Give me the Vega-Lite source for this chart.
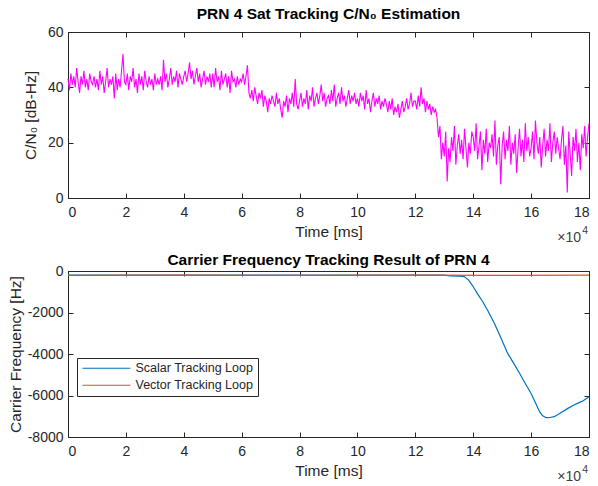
{
  "$schema": "https://vega.github.io/schema/vega-lite/v6.json",
  "background": "white",
  "padding": {"left": 7, "top": 6, "right": 10, "bottom": 0},
  "spacing": 6,
  "config": {
    "font": "Liberation Sans",
    "view": {"stroke": "#262626", "strokeWidth": 1},
    "axis": {"grid": false, "labelFontSize": 14, "titleFontSize": 15.5, "titleFontWeight": "normal", "labelColor": "#262626", "titleColor": "#262626", "domainColor": "#262626", "tickColor": "#262626", "tickSize": -5, "tickWidth": 1, "labelFont": "Liberation Sans", "titleFont": "Liberation Sans"},
    "axisX": {"labelPadding": 12, "titlePadding": 5},
    "axisY": {"labelPadding": 10},
    "title": {"fontSize": 15.5, "fontWeight": "bold", "color": "#000000", "font": "Liberation Sans"}
  },
  "datasets": {
    "cn0": [
{"t":0.00,"c":43},{"t":0.05,"c":39},{"t":0.10,"c":45},{"t":0.15,"c":41},{"t":0.20,"c":44},{"t":0.25,"c":40},{"t":0.30,"c":47},{"t":0.35,"c":42},{"t":0.40,"c":38},{"t":0.45,"c":44},{"t":0.50,"c":41},{"t":0.55,"c":46},{"t":0.60,"c":40},{"t":0.65,"c":43},{"t":0.70,"c":39},{"t":0.75,"c":45},{"t":0.80,"c":42},{"t":0.85,"c":41},{"t":0.90,"c":44},{"t":0.95,"c":40},
{"t":1.00,"c":43},{"t":1.05,"c":39},{"t":1.10,"c":46},{"t":1.15,"c":41},{"t":1.20,"c":44},{"t":1.25,"c":38},{"t":1.30,"c":42},{"t":1.35,"c":47},{"t":1.40,"c":40},{"t":1.45,"c":43},{"t":1.50,"c":41},{"t":1.55,"c":44},{"t":1.60,"c":36},{"t":1.65,"c":45},{"t":1.70,"c":39},{"t":1.75,"c":43},{"t":1.80,"c":40},{"t":1.85,"c":46},{"t":1.90,"c":52},{"t":1.95,"c":42},
{"t":2.00,"c":41},{"t":2.05,"c":45},{"t":2.10,"c":39},{"t":2.15,"c":44},{"t":2.20,"c":42},{"t":2.25,"c":47},{"t":2.30,"c":40},{"t":2.35,"c":43},{"t":2.40,"c":38},{"t":2.45,"c":45},{"t":2.50,"c":41},{"t":2.55,"c":44},{"t":2.60,"c":39},{"t":2.65,"c":46},{"t":2.70,"c":42},{"t":2.75,"c":40},{"t":2.80,"c":44},{"t":2.85,"c":41},{"t":2.90,"c":43},{"t":2.95,"c":39},
{"t":3.00,"c":45},{"t":3.05,"c":41},{"t":3.10,"c":43},{"t":3.15,"c":41},{"t":3.20,"c":44},{"t":3.25,"c":39},{"t":3.30,"c":50},{"t":3.35,"c":42},{"t":3.40,"c":45},{"t":3.45,"c":40},{"t":3.50,"c":43},{"t":3.55,"c":47},{"t":3.60,"c":41},{"t":3.65,"c":44},{"t":3.70,"c":42},{"t":3.75,"c":46},{"t":3.80,"c":40},{"t":3.85,"c":45},{"t":3.90,"c":43},{"t":3.95,"c":41},
{"t":4.00,"c":44},{"t":4.05,"c":46},{"t":4.10,"c":42},{"t":4.15,"c":45},{"t":4.20,"c":49},{"t":4.25,"c":43},{"t":4.30,"c":46},{"t":4.35,"c":41},{"t":4.40,"c":44},{"t":4.45,"c":47},{"t":4.50,"c":42},{"t":4.55,"c":45},{"t":4.60,"c":40},{"t":4.65,"c":43},{"t":4.70,"c":46},{"t":4.75,"c":41},{"t":4.80,"c":44},{"t":4.85,"c":42},{"t":4.90,"c":45},{"t":4.95,"c":40},
{"t":5.00,"c":45},{"t":5.05,"c":40},{"t":5.10,"c":47},{"t":5.15,"c":42},{"t":5.20,"c":44},{"t":5.25,"c":39},{"t":5.30,"c":46},{"t":5.35,"c":41},{"t":5.40,"c":43},{"t":5.45,"c":45},{"t":5.50,"c":40},{"t":5.55,"c":44},{"t":5.60,"c":38},{"t":5.65,"c":46},{"t":5.70,"c":42},{"t":5.75,"c":43},{"t":5.80,"c":40},{"t":5.85,"c":44},{"t":5.90,"c":41},{"t":5.95,"c":43},
{"t":6.00,"c":42},{"t":6.05,"c":45},{"t":6.10,"c":41},{"t":6.15,"c":44},{"t":6.20,"c":48},{"t":6.25,"c":38},{"t":6.30,"c":36},{"t":6.35,"c":39},{"t":6.40,"c":35},{"t":6.45,"c":40},{"t":6.50,"c":37},{"t":6.55,"c":34},{"t":6.60,"c":38},{"t":6.65,"c":36},{"t":6.70,"c":39},{"t":6.75,"c":33},{"t":6.80,"c":37},{"t":6.85,"c":35},{"t":6.90,"c":31},{"t":6.95,"c":36},
{"t":7.00,"c":34},{"t":7.05,"c":37},{"t":7.10,"c":35},{"t":7.15,"c":33},{"t":7.20,"c":38},{"t":7.25,"c":34},{"t":7.30,"c":36},{"t":7.35,"c":32},{"t":7.40,"c":29},{"t":7.45,"c":35},{"t":7.50,"c":33},{"t":7.55,"c":37},{"t":7.60,"c":31},{"t":7.65,"c":36},{"t":7.70,"c":34},{"t":7.75,"c":38},{"t":7.80,"c":33},{"t":7.85,"c":43},{"t":7.90,"c":34},{"t":7.95,"c":32},
{"t":8.00,"c":35},{"t":8.05,"c":38},{"t":8.10,"c":33},{"t":8.15,"c":36},{"t":8.20,"c":34},{"t":8.25,"c":39},{"t":8.30,"c":32},{"t":8.35,"c":37},{"t":8.40,"c":35},{"t":8.45,"c":40},{"t":8.50,"c":33},{"t":8.55,"c":36},{"t":8.60,"c":38},{"t":8.65,"c":34},{"t":8.70,"c":37},{"t":8.75,"c":41},{"t":8.80,"c":35},{"t":8.85,"c":38},{"t":8.90,"c":33},{"t":8.95,"c":36},
{"t":9.00,"c":37},{"t":9.05,"c":34},{"t":9.10,"c":39},{"t":9.15,"c":35},{"t":9.20,"c":41},{"t":9.25,"c":33},{"t":9.30,"c":36},{"t":9.35,"c":38},{"t":9.40,"c":34},{"t":9.45,"c":40},{"t":9.50,"c":35},{"t":9.55,"c":37},{"t":9.60,"c":33},{"t":9.65,"c":36},{"t":9.70,"c":39},{"t":9.75,"c":34},{"t":9.80,"c":37},{"t":9.85,"c":35},{"t":9.90,"c":38},{"t":9.95,"c":34},
{"t":10.00,"c":36},{"t":10.05,"c":33},{"t":10.10,"c":38},{"t":10.15,"c":35},{"t":10.20,"c":37},{"t":10.25,"c":32},{"t":10.30,"c":39},{"t":10.35,"c":34},{"t":10.40,"c":36},{"t":10.45,"c":31},{"t":10.50,"c":35},{"t":10.55,"c":38},{"t":10.60,"c":33},{"t":10.65,"c":36},{"t":10.70,"c":34},{"t":10.75,"c":37},{"t":10.80,"c":32},{"t":10.85,"c":35},{"t":10.90,"c":33},{"t":10.95,"c":36},
{"t":11.00,"c":34},{"t":11.05,"c":31},{"t":11.10,"c":35},{"t":11.15,"c":32},{"t":11.20,"c":36},{"t":11.25,"c":30},{"t":11.30,"c":33},{"t":11.35,"c":31},{"t":11.40,"c":34},{"t":11.45,"c":29},{"t":11.50,"c":32},{"t":11.55,"c":35},{"t":11.60,"c":31},{"t":11.65,"c":33},{"t":11.70,"c":36},{"t":11.75,"c":32},{"t":11.80,"c":34},{"t":11.85,"c":38},{"t":11.90,"c":33},{"t":11.95,"c":35},
{"t":12.00,"c":35},{"t":12.05,"c":32},{"t":12.10,"c":37},{"t":12.15,"c":33},{"t":12.20,"c":40},{"t":12.25,"c":34},{"t":12.30,"c":36},{"t":12.35,"c":31},{"t":12.40,"c":35},{"t":12.45,"c":32},{"t":12.50,"c":34},{"t":12.55,"c":30},{"t":12.60,"c":33},{"t":12.65,"c":31},{"t":12.70,"c":32},{"t":12.75,"c":29},{"t":12.80,"c":22},{"t":12.85,"c":26},{"t":12.90,"c":14},{"t":12.95,"c":20},
{"t":13.00,"c":15},{"t":13.05,"c":24},{"t":13.10,"c":6},{"t":13.15,"c":18},{"t":13.20,"c":13},{"t":13.25,"c":22},{"t":13.30,"c":17},{"t":13.35,"c":26},{"t":13.40,"c":12},{"t":13.45,"c":19},{"t":13.50,"c":23},{"t":13.55,"c":16},{"t":13.60,"c":21},{"t":13.65,"c":14},{"t":13.70,"c":25},{"t":13.75,"c":18},{"t":13.80,"c":11},{"t":13.85,"c":20},{"t":13.90,"c":16},{"t":13.95,"c":24},
{"t":14.00,"c":22},{"t":14.05,"c":17},{"t":14.10,"c":27},{"t":14.15,"c":14},{"t":14.20,"c":19},{"t":14.25,"c":24},{"t":14.30,"c":10},{"t":14.35,"c":21},{"t":14.40,"c":16},{"t":14.45,"c":25},{"t":14.50,"c":13},{"t":14.55,"c":20},{"t":14.60,"c":18},{"t":14.65,"c":23},{"t":14.70,"c":15},{"t":14.75,"c":28},{"t":14.80,"c":12},{"t":14.85,"c":19},{"t":14.90,"c":22},{"t":14.95,"c":5},
{"t":15.00,"c":19},{"t":15.05,"c":24},{"t":15.10,"c":14},{"t":15.15,"c":21},{"t":15.20,"c":17},{"t":15.25,"c":26},{"t":15.30,"c":12},{"t":15.35,"c":20},{"t":15.40,"c":16},{"t":15.45,"c":23},{"t":15.50,"c":9},{"t":15.55,"c":18},{"t":15.60,"c":25},{"t":15.65,"c":15},{"t":15.70,"c":21},{"t":15.75,"c":13},{"t":15.80,"c":27},{"t":15.85,"c":17},{"t":15.90,"c":22},{"t":15.95,"c":15},
{"t":16.00,"c":18},{"t":16.05,"c":24},{"t":16.10,"c":14},{"t":16.15,"c":28},{"t":16.20,"c":20},{"t":16.25,"c":16},{"t":16.30,"c":22},{"t":16.35,"c":11},{"t":16.40,"c":19},{"t":16.45,"c":25},{"t":16.50,"c":15},{"t":16.55,"c":21},{"t":16.60,"c":17},{"t":16.65,"c":27},{"t":16.70,"c":13},{"t":16.75,"c":20},{"t":16.80,"c":24},{"t":16.85,"c":16},{"t":16.90,"c":22},{"t":16.95,"c":18},
{"t":17.00,"c":14},{"t":17.05,"c":21},{"t":17.10,"c":26},{"t":17.15,"c":12},{"t":17.20,"c":19},{"t":17.25,"c":2},{"t":17.30,"c":24},{"t":17.35,"c":16},{"t":17.40,"c":8},{"t":17.45,"c":22},{"t":17.50,"c":17},{"t":17.55,"c":25},{"t":17.60,"c":13},{"t":17.65,"c":20},{"t":17.70,"c":10},{"t":17.75,"c":23},{"t":17.80,"c":18},{"t":17.85,"c":26},{"t":17.90,"c":15},{"t":17.95,"c":22},
{"t":18.00,"c":27}
    ],
    "freq": [
{"t":0,"f":-200,"loop":"Scalar Tracking Loop"},{"t":6,"f":-200,"loop":"Scalar Tracking Loop"},{"t":13.0,"f":-200,"loop":"Scalar Tracking Loop"},{"t":13.2,"f":-240,"loop":"Scalar Tracking Loop"},{"t":13.5,"f":-250,"loop":"Scalar Tracking Loop"},{"t":13.69,"f":-270,"loop":"Scalar Tracking Loop"},{"t":13.85,"f":-450,"loop":"Scalar Tracking Loop"},{"t":14.0,"f":-760,"loop":"Scalar Tracking Loop"},{"t":14.15,"f":-1100,"loop":"Scalar Tracking Loop"},{"t":14.33,"f":-1480,"loop":"Scalar Tracking Loop"},{"t":14.5,"f":-1900,"loop":"Scalar Tracking Loop"},{"t":14.73,"f":-2520,"loop":"Scalar Tracking Loop"},{"t":14.95,"f":-3200,"loop":"Scalar Tracking Loop"},{"t":15.19,"f":-3970,"loop":"Scalar Tracking Loop"},{"t":15.4,"f":-4450,"loop":"Scalar Tracking Loop"},{"t":15.6,"f":-4930,"loop":"Scalar Tracking Loop"},{"t":15.8,"f":-5420,"loop":"Scalar Tracking Loop"},{"t":16.0,"f":-5900,"loop":"Scalar Tracking Loop"},{"t":16.15,"f":-6350,"loop":"Scalar Tracking Loop"},{"t":16.29,"f":-6780,"loop":"Scalar Tracking Loop"},{"t":16.4,"f":-6980,"loop":"Scalar Tracking Loop"},{"t":16.52,"f":-7070,"loop":"Scalar Tracking Loop"},{"t":16.65,"f":-7060,"loop":"Scalar Tracking Loop"},{"t":16.8,"f":-7020,"loop":"Scalar Tracking Loop"},{"t":17.0,"f":-6850,"loop":"Scalar Tracking Loop"},{"t":17.27,"f":-6620,"loop":"Scalar Tracking Loop"},{"t":17.45,"f":-6480,"loop":"Scalar Tracking Loop"},{"t":17.6,"f":-6380,"loop":"Scalar Tracking Loop"},{"t":17.8,"f":-6250,"loop":"Scalar Tracking Loop"},{"t":18.0,"f":-6060,"loop":"Scalar Tracking Loop"},
{"t":0,"f":-210,"loop":"Vector Tracking Loop"},{"t":4,"f":-200,"loop":"Vector Tracking Loop"},{"t":8,"f":-210,"loop":"Vector Tracking Loop"},{"t":12,"f":-200,"loop":"Vector Tracking Loop"},{"t":15,"f":-210,"loop":"Vector Tracking Loop"},{"t":18,"f":-200,"loop":"Vector Tracking Loop"}
    ]
  },
  "vconcat": [
    {
      "width": 521,
      "height": 166,
      "title": {"text": "PRN 4 Sat Tracking C/N₀ Estimation", "offset": 3},
      "resolve": {"axis": {"x": "independent", "y": "independent"}},
      "layer": [
        {
          "data": {"name": "cn0"},
          "mark": {"type": "line", "color": "#FF00FF", "strokeWidth": 1.1},
          "encoding": {
            "x": {"field": "t", "type": "quantitative", "scale": {"domain": [0, 18], "nice": false}, "axis": {"values": [0,2,4,6,8,10,12,14,16,18], "title": "Time [ms]"}},
            "y": {"field": "c", "type": "quantitative", "scale": {"domain": [0, 60], "nice": false}, "axis": {"values": [0,20,40,60], "title": "C/N₀ [dB-Hz]", "titlePadding": 9}}
          }
        },
        {
          "data": {"name": "cn0"},
          "mark": {"type": "line", "opacity": 0},
          "encoding": {
            "x": {"field": "t", "type": "quantitative", "axis": {"orient": "top", "labels": false, "title": null, "domain": false, "values": [0,2,4,6,8,10,12,14,16,18]}},
            "y": {"field": "c", "type": "quantitative", "axis": {"orient": "right", "labels": false, "title": null, "domain": false, "values": [0,20,40,60]}}
          }
        },
        {
          "data": {"values": [{"s": "×10"}]},
          "mark": {"type": "text", "align": "right", "baseline": "middle", "fontSize": 14, "color": "#404040", "dx": -8, "dy": 40},
          "encoding": {"text": {"field": "s"}, "x": {"datum": 18, "type": "quantitative", "axis": null}, "y": {"datum": 0, "type": "quantitative", "axis": null}}
        },
        {
          "data": {"values": [{"s": "4"}]},
          "mark": {"type": "text", "align": "right", "baseline": "middle", "fontSize": 10.5, "color": "#404040", "dx": -1, "dy": 33},
          "encoding": {"text": {"field": "s"}, "x": {"datum": 18, "type": "quantitative", "axis": null}, "y": {"datum": 0, "type": "quantitative", "axis": null}}
        }
      ]
    },
    {
      "width": 521,
      "height": 166,
      "title": {"text": "Carrier Frequency Tracking Result of PRN 4", "offset": -4},
      "resolve": {"axis": {"x": "independent", "y": "independent"}},
      "layer": [
        {
          "data": {"name": "freq"},
          "mark": {"type": "line", "strokeWidth": 1.2},
          "encoding": {
            "x": {"field": "t", "type": "quantitative", "scale": {"domain": [0, 18], "nice": false}, "axis": {"values": [0,2,4,6,8,10,12,14,16,18], "title": "Time [ms]"}},
            "y": {"field": "f", "type": "quantitative", "scale": {"domain": [-8000, 0], "nice": false}, "axis": {"values": [-8000,-6000,-4000,-2000,0], "title": "Carrier Frequency [Hz]", "titlePadding": 4, "format": "d", "labelExpr": "replace(datum.label, '−', '-')"}},
            "color": {"field": "loop", "type": "nominal", "scale": {"domain": ["Scalar Tracking Loop", "Vector Tracking Loop"], "range": ["#0072BD", "#D95319"]},
              "legend": {"title": null, "orient": "none", "legendX": 9, "legendY": 326, "symbolType": "M-1,0H9", "symbolSize": 92, "symbolStrokeWidth": 1.2, "labelFontSize": 12.5, "labelColor": "#262626", "strokeColor": "#262626", "fillColor": "white", "padding": 4, "rowPadding": 4, "labelOffset": 42}}
          }
        },
        {
          "data": {"name": "freq"},
          "mark": {"type": "line", "opacity": 0},
          "encoding": {
            "x": {"field": "t", "type": "quantitative", "axis": {"orient": "top", "labels": false, "title": null, "domain": false, "values": [0,2,4,6,8,10,12,14,16,18]}},
            "y": {"field": "f", "type": "quantitative", "axis": {"orient": "right", "labels": false, "title": null, "domain": false, "values": [-8000,-6000,-4000,-2000,0]}}
          }
        },
        {
          "data": {"values": [{"s": "×10"}]},
          "mark": {"type": "text", "align": "right", "baseline": "middle", "fontSize": 14, "color": "#404040", "dx": -8, "dy": 40},
          "encoding": {"text": {"field": "s"}, "x": {"datum": 18, "type": "quantitative", "axis": null}, "y": {"datum": -8000, "type": "quantitative", "axis": null}}
        },
        {
          "data": {"values": [{"s": "4"}]},
          "mark": {"type": "text", "align": "right", "baseline": "middle", "fontSize": 10.5, "color": "#404040", "dx": -1, "dy": 33},
          "encoding": {"text": {"field": "s"}, "x": {"datum": 18, "type": "quantitative", "axis": null}, "y": {"datum": -8000, "type": "quantitative", "axis": null}}
        }
      ]
    }
  ]
}
